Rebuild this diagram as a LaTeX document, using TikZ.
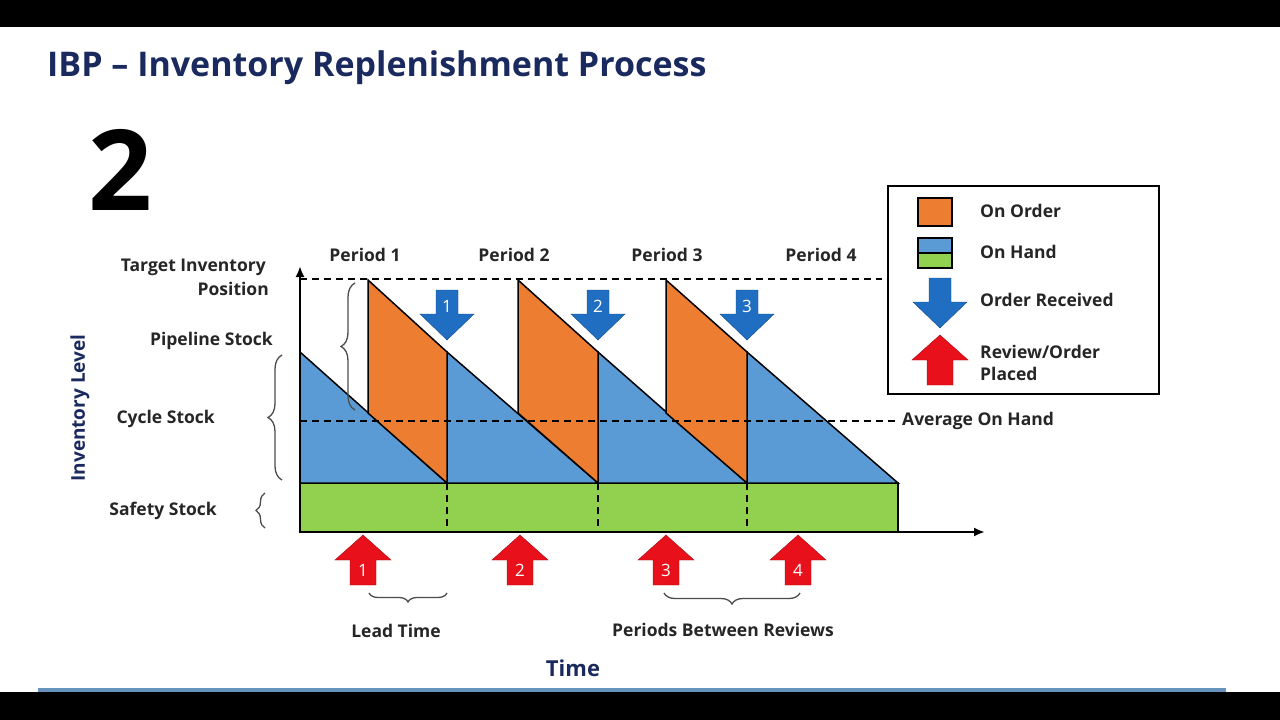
\documentclass[tikz,border=0pt]{standalone}
\usepackage{fontspec}
\setmainfont{Open Sans}
\usetikzlibrary{decorations.pathreplacing,arrows.meta}
\definecolor{ord}{HTML}{ED7D31}
\definecolor{hand}{HTML}{5B9BD5}
\definecolor{safe}{HTML}{92D050}
\definecolor{rarr}{HTML}{E8101A}
\definecolor{barr}{HTML}{1F6EC2}
\definecolor{navy}{HTML}{1B2A5E}
\newcommand\dnarr[3]{% x, ytop, label
 \filldraw[fill=barr,draw=barr!70!black] (#1-11,#2) -- (#1+11,#2) -- (#1+11,#2+24) -- (#1+27,#2+24) -- (#1,#2+50) -- (#1-27,#2+24) -- (#1-11,#2+24) -- cycle;
 \node[lbl,text=white,font=\fontsize{17}{18}\selectfont] at (#1,#2+16) {#3};}
\newcommand\uparr[3]{% x, ytip, label
 \filldraw[fill=rarr,draw=rarr!70!black] (#1,#2) -- (#1+28,#2+25) -- (#1+13,#2+25) -- (#1+13,#2+50) -- (#1-13,#2+50) -- (#1-13,#2+25) -- (#1-28,#2+25) -- cycle;
 \node[lbl,text=white,font=\fontsize{17}{18}\selectfont] at (#1,#2+35) {#3};}
\begin{document}
\begin{tikzpicture}[x=1pt,y=-1pt,
 lbl/.style={font=\fontsize{17.5}{19}\selectfont\bfseries,text=black!85,inner sep=0pt},
 dl/.style={dash pattern=on 7pt off 5pt,line width=2pt},
 br/.style={decorate,line width=1.3pt,black!70}]
\useasboundingbox (0,0) rectangle (1280,720);
\fill[white] (0,0) rectangle (1280,720);
\fill[black] (0,0) rectangle (1280,27);
\fill[black] (0,692) rectangle (1280,720);
\fill[hand!70!gray] (38,688) rectangle (1226,692);
\node[anchor=west,inner sep=0pt,text=navy,font=\fontsize{34}{36}\selectfont\bfseries] (title) at (47,68) {IBP – Inventory Replenishment Process};
\node[inner sep=0pt,font=\fontsize{112}{112}\selectfont\bfseries] (num) at (120,170) {2};
% safety
\filldraw[fill=safe,draw=black,line width=1.5pt] (300,483) rectangle (898,532);
\foreach \x in {447,598,747} \draw[dl] (\x,483) -- (\x,532);
% blue triangles
\foreach \a/\b in {300/447,447/598,598/747,747/898}
 \filldraw[fill=hand,draw=black,line width=1.5pt] (\a,352) -- (\b,483) -- (\a,483) -- cycle;
% orange
\foreach \a/\b in {368/447,518/598,666/747}
 \filldraw[fill=ord,draw=black,line width=1.5pt] (\a,280) -- (\b,352) -- (\b,483) -- (\a,413) -- cycle;
% dashed lines
\draw[dl] (300,279) -- (882,279);
\draw[dl] (300,421) -- (898,421);
\node[lbl,anchor=west] (avg) at (902,421) {Average On Hand};
% axes
\draw[line width=2.2pt,-{Latex[length=11pt,width=9pt]}] (300,532) -- (300,266);
\draw[line width=2.2pt,-{Latex[length=11pt,width=9pt]}] (300,532) -- (985,532);
% periods
\foreach \x/\n in {365/1,514/2,667/3,821/4} \node[lbl] at (\x,255) {Period \n};
\dnarr{447}{290}{1}\dnarr{598}{290}{2}\dnarr{747}{290}{3}
\uparr{363}{535}{1}\uparr{520}{535}{2}\uparr{666}{535}{3}\uparr{798}{535}{4}
% left labels
\node[lbl,anchor=east] at (266,267) {Target Inventory};
\node[lbl,anchor=east] at (269,289) {Position};
\node[lbl,anchor=east] at (273,341) {Pipeline Stock};
\node[lbl,anchor=east] at (215,419) {Cycle Stock};
\node[lbl,anchor=east] at (217,511) {Safety Stock};
\node[rotate=90,inner sep=0pt,text=navy,font=\fontsize{19}{20}\selectfont\bfseries] at (80,408) {Inventory Level};
% braces
\draw[br,decoration={brace,amplitude=14pt}] (355,410) -- (355,283);
\draw[br,decoration={brace,amplitude=14pt}] (282,480) -- (282,355);
\draw[br,decoration={brace,amplitude=9pt}] (265,528) -- (265,493);
\draw[br,decoration={brace,amplitude=9pt}] (447,593) -- (369,593);
\draw[br,decoration={brace,amplitude=11pt}] (800,593) -- (664,593);
\node[lbl] at (396,631) {Lead Time};
\node[lbl] at (723,630) {Periods Between Reviews};
\node[inner sep=0pt,text=navy,font=\fontsize{22}{24}\selectfont\bfseries] at (573,668) {Time};
% legend
\draw[line width=2.2pt] (888,186) rectangle (1159,394);
\filldraw[fill=ord,draw=black,line width=1.2pt] (918,198) rectangle (952,226);
\filldraw[fill=hand,draw=black,line width=1.2pt] (918,238) rectangle (952,253);
\filldraw[fill=safe,draw=black,line width=1.2pt] (918,253) rectangle (952,268);
\dnarr{940}{278}{}
\uparr{940}{335}{}
\node[lbl,anchor=west] at (980,211) {On Order};
\node[lbl,anchor=west] at (980,252) {On Hand};
\node[lbl,anchor=west] at (980,300) {Order Received};
\node[lbl,anchor=west] at (980,352) {Review/Order};
\node[lbl,anchor=west] at (980,374) {Placed};
\end{tikzpicture}
\end{document}
